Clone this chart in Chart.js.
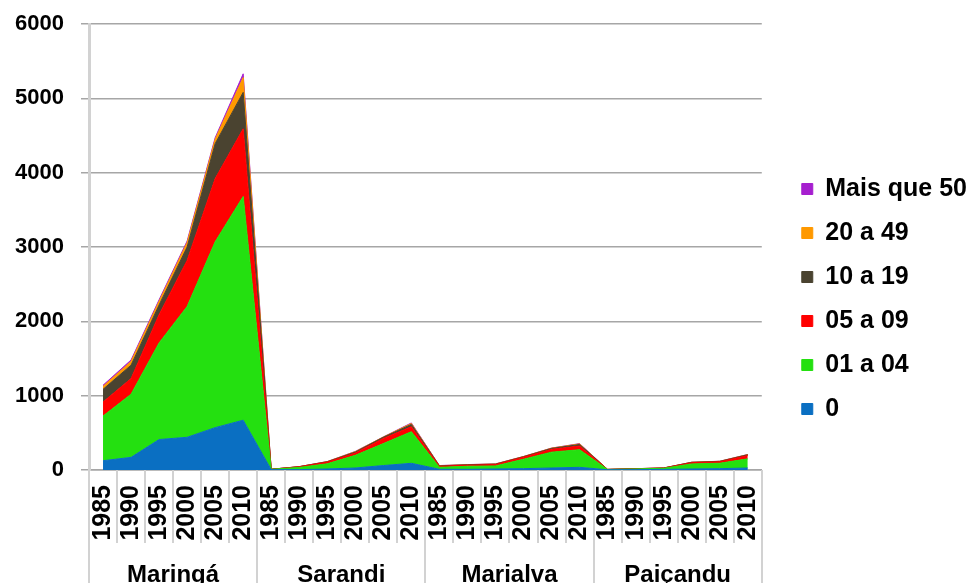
<!DOCTYPE html>
<html lang="pt">
<head>
<meta charset="utf-8">
<title>Estabelecimentos por faixa</title>
<script src="https://cdn.jsdelivr.net/npm/chart.js@4"></script>
<style>
  html, body { margin: 0; padding: 0; background: #fff; }
  #wrap { position: relative; width: 977px; height: 583px; }
</style>
</head>
<body>
<div id="wrap"><canvas id="myChart"></canvas></div>
<script>
/*=====================================================================
  積み上げ面グラフ（Chart.js v4）
=====================================================================*/

/**
 * カラーパレット
 */
const COLORS = {
  blue: "#0a6fc2",
  green: "#24e010",
  red: "#ff0000",
  olive: "#4a4330",
  orange: "#ff9900",
  purple: "#a61fcf",
  grid: "#a6a6a6",
  axis: "#d2d2d2",
  text: "#000000",
};

const FONT = "'Liberation Sans', Arial, sans-serif";

// 区分（都市）と年
const CITIES = ["Maringá", "Sarandi", "Marialva", "Paiçandu"];
const YEARS = ["1985", "1990", "1995", "2000", "2005", "2010"];
const Y_TICKS = [0, 1000, 2000, 3000, 4000, 5000, 6000];

// 各系列の値（都市ごとに 1985〜2010 の 6 点 × 4 都市）
const ZERO = [125, 170, 410, 440, 570, 670, 5, 5, 14, 27, 60, 90, 10, 9, 14, 18, 27, 36, 3, 5, 8, 14, 18, 27];
const ONE_TO_04 = [600, 850, 1300, 1760, 2500, 3010, 5, 30, 70, 170, 295, 425, 26, 41, 41, 127, 213, 237, 4, 10, 15, 68, 73, 123];
const FIVE_TO_09 = [190, 210, 380, 620, 850, 910, 0, 8, 22, 32, 70, 68, 14, 15, 18, 28, 38, 50, 1, 2, 3, 17, 20, 45];
const TEN_TO_19 = [170, 180, 130, 180, 470, 490, 0, 2, 5, 12, 15, 30, 5, 5, 6, 6, 12, 20, 0, 1, 1, 4, 5, 10];
const TWENTY_TO_49 = [40, 50, 50, 60, 60, 200, 0, 0, 2, 6, 4, 12, 3, 2, 2, 2, 4, 8, 0, 0, 0, 1, 1, 3];
const OVER_50 = [15, 20, 20, 20, 20, 50, 0, 0, 1, 3, 1, 8, 2, 1, 1, 1, 1, 4, 0, 0, 0, 1, 1, 1];

// x 軸ラベル（都市 × 年）
const LABELS = CITIES.flatMap(() => YEARS);

/**
 * 系列を生成するヘルパー
 */
const makeSeries = (label, data, color, fill) => ({
  label,
  data,
  fill,
  backgroundColor: color,
  borderColor: color,
  borderWidth: 1,
  pointRadius: 0,
  pointHoverRadius: 0,
  tension: 0,
});

const chartData = {
  labels: LABELS,
  datasets: [
    makeSeries("0", ZERO, COLORS.blue, "origin"),
    makeSeries("01 a 04", ONE_TO_04, COLORS.green, "-1"),
    makeSeries("05 a 09", FIVE_TO_09, COLORS.red, "-1"),
    makeSeries("10 a 19", TEN_TO_19, COLORS.olive, "-1"),
    makeSeries("20 a 49", TWENTY_TO_49, COLORS.orange, "-1"),
    makeSeries("Mais que 50", OVER_50, COLORS.purple, "-1"),
  ],
};

/**
 * 都市名と区切り線を x 軸の下に描くプラグイン
 */
const groupAxisPlugin = {
  id: "groupAxis",
  afterDraw(chart) {
    const { ctx, chartArea } = chart;
    const xs = chart.scales.x;
    const step = xs.getPixelForValue(1) - xs.getPixelForValue(0);
    const start = xs.getPixelForValue(0) - step / 2;
    const per = YEARS.length;

    ctx.save();
    ctx.strokeStyle = COLORS.axis;
    ctx.lineWidth = 2;
    for (let i = 0; i <= LABELS.length; i++) {
      const x = Math.round(start + i * step);
      const bottom = i % per === 0 ? chart.height : chartArea.bottom + 73;
      ctx.beginPath();
      ctx.moveTo(x, chartArea.bottom);
      ctx.lineTo(x, bottom);
      ctx.stroke();
    }

    ctx.fillStyle = COLORS.text;
    ctx.font = `bold 24px ${FONT}`;
    ctx.textAlign = "center";
    ctx.textBaseline = "alphabetic";
    CITIES.forEach((city, k) => {
      const cx = start + (k * per + per / 2) * step;
      ctx.fillText(city, cx, chart.height - 1);
    });
    ctx.restore();
  },
};

const chartConfig = {
  type: "line",
  data: chartData,
  plugins: [groupAxisPlugin],
  options: {
    responsive: true,
    maintainAspectRatio: false,
    animation: false,
    layout: {
      padding: { left: 15, top: 15, right: 0, bottom: 0 },
    },
    plugins: {
      legend: {
        position: "right",
        reverse: true,
        maxWidth: 240,
        labels: {
          boxWidth: 11,
          boxHeight: 11,
          padding: 19,
          color: COLORS.text,
          font: { family: FONT, size: 25, weight: "bold" },
        },
      },
      tooltip: { enabled: false },
    },
    scales: {
      x: {
        offset: true,
        grid: { display: false, drawTicks: false },
        border: { color: COLORS.grid, width: 1.5 },
        ticks: {
          autoSkip: false,
          minRotation: 90,
          maxRotation: 90,
          padding: 15,
          color: COLORS.text,
          font: { family: FONT, size: 25, weight: "bold" },
        },
        afterFit: (scale) => {
          scale.height = 113;
          scale.paddingLeft = 0;
          scale.paddingRight = 0;
        },
      },
      y: {
        stacked: true,
        min: Y_TICKS[0],
        max: Y_TICKS[Y_TICKS.length - 1],
        grid: { color: COLORS.grid, lineWidth: 1.5, tickLength: 8 },
        border: { color: COLORS.axis, width: 3 },
        ticks: {
          stepSize: Y_TICKS[1] - Y_TICKS[0],
          padding: 17,
          color: COLORS.text,
          font: { family: FONT, size: 22, weight: "bold" },
          callback: (value) => String(value),
        },
        afterFit: (scale) => {
          scale.width = 74;
          scale.paddingTop = 24;
          scale.paddingBottom = 0;
        },
      },
      // 凡例との間のすき間
      gap: {
        type: "linear",
        position: "right",
        grid: { display: false },
        border: { display: false },
        ticks: { display: false },
        afterFit: (scale) => {
          scale.width = 21;
          scale.paddingTop = 0;
          scale.paddingBottom = 0;
        },
      },
    },
  },
};

/**
 * チャートを初期化
 */
const initChart = () => {
  const canvas = document.getElementById("myChart");
  if (!canvas) return;
  new Chart(canvas, chartConfig);
};

if (document.readyState === "loading") {
  document.addEventListener("DOMContentLoaded", initChart);
} else {
  initChart();
}
</script>
</body>
</html>
